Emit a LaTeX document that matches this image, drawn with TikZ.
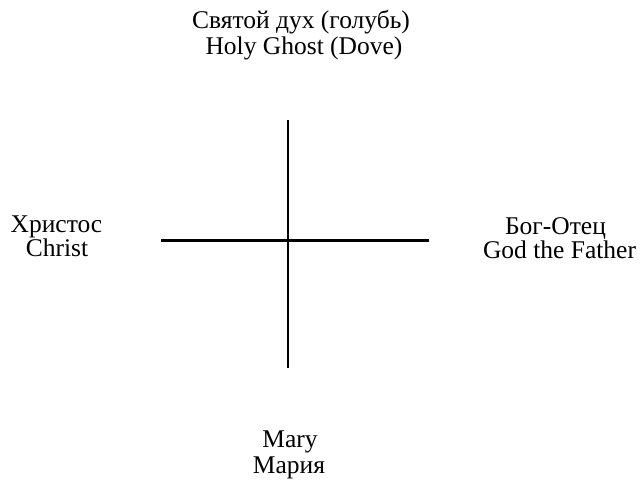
\documentclass[tikz,border=0pt]{standalone}
\usepackage{fontspec}
\setmainfont{Liberation Serif}
\begin{document}
\begin{tikzpicture}[x=1pt,y=-1pt,
  lbl/.style={font=\fontsize{25.5}{25}\selectfont, inner sep=0pt, anchor=base},
  axis/.style={line width=2.3pt, black}]
\useasboundingbox (0,0) rectangle (641,484);
\coordinate (vtop) at (288,120);
\coordinate (vbot) at (288,368);
\coordinate (hleft) at (161,240.5);
\coordinate (hright) at (429,240.5);
\draw[axis] (vtop) -- (vbot);
\draw[axis] (hleft) -- (hright);
\node[lbl] (top1) at (301,29) {Святой дух (голубь)};
\node[lbl] (top2) at (304,55) {Holy Ghost (Dove)};
\node[lbl] (left1) at (56.5,233) {Христос};
\node[lbl] (left2) at (57,257) {Christ};
\node[lbl] (right1) at (555.5,235) {Бог-Отец};
\node[lbl] (right2) at (559.5,259) {God the Father};
\node[lbl] (bot1) at (290,447) {Mary};
\node[lbl] (bot2) at (289,473) {Мария};
\end{tikzpicture}
\end{document}
